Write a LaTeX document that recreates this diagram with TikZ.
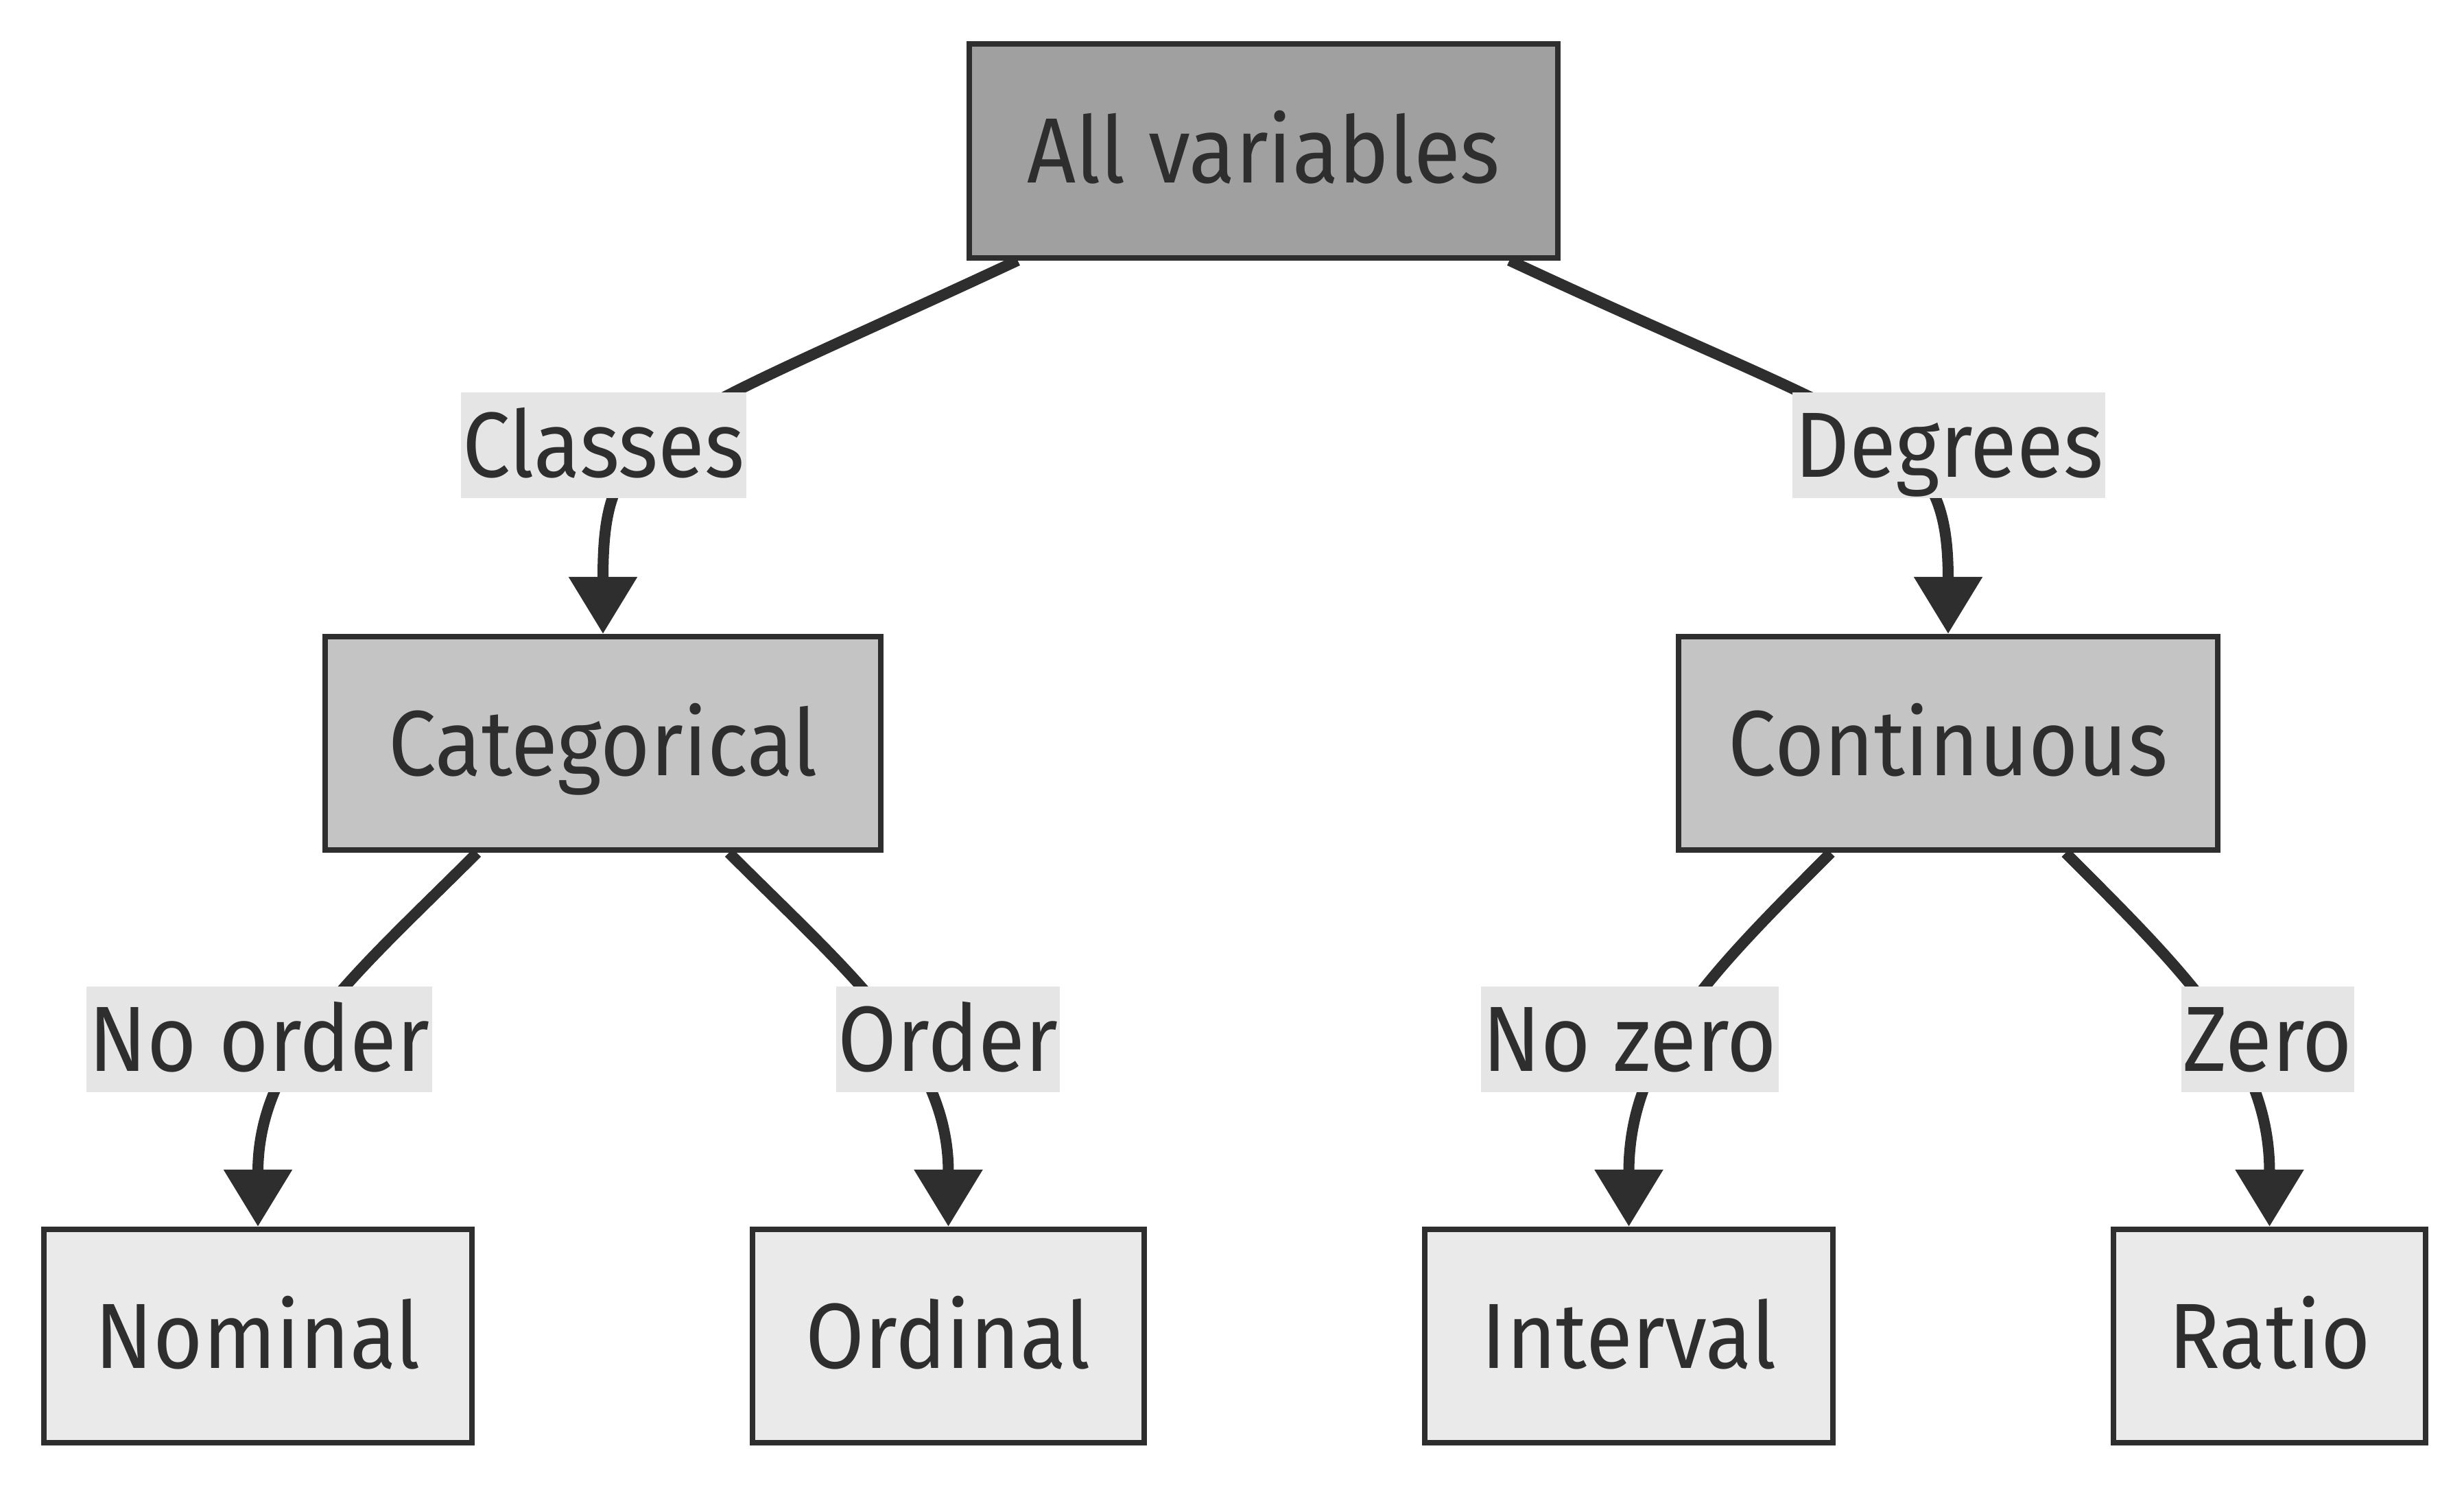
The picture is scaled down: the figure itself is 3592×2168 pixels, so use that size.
\documentclass[tikz,border=0pt]{standalone}
\usepackage{fontspec}
\setmainfont{Fira Sans}[FakeStretch=0.92]
\usetikzlibrary{arrows.meta,backgrounds}
\definecolor{ink}{HTML}{2E2E2E}
\definecolor{topfill}{HTML}{A0A0A0}
\definecolor{midfill}{HTML}{C4C4C4}
\definecolor{leaffill}{HTML}{EAEAEA}
\definecolor{lblfill}{HTML}{E5E5E5}

\begin{document}
\begin{tikzpicture}[x=0.01cm,y=-0.01cm,
  box/.style={draw=ink,line width=0.08cm,minimum height=3.11cm,inner sep=0pt,
    text=ink,font=\fontsize{38.4}{46}\selectfont,text height=0.93cm,text depth=0pt},
  lbl/.style={fill=lblfill,minimum height=1.53cm,inner xsep=0.03cm,inner ysep=0pt,
    text=ink,font=\fontsize{38.4}{46}\selectfont,text height=0.93cm,text depth=0pt},
  link/.style={-{Triangle[length=0.83cm,width=0.96cm]},draw=ink,line width=0.16cm}]
\useasboundingbox (0,0) rectangle (3592,2168);
% ---- top level ----
\node[box,fill=topfill,minimum width=8.58cm] (all) at (1842,220) {All variables};
% ---- second level ----
\node[box,fill=midfill,minimum width=8.10cm] (cat) at (879,1083.5) {Categorical};
\node[box,fill=midfill,minimum width=7.85cm] (cont) at (2840,1083.5) {Continuous};
% ---- leaves ----
\node[box,fill=leaffill,minimum width=6.24cm] (nom) at (376,1947.5) {Nominal};
\node[box,fill=leaffill,minimum width=5.71cm] (ord) at (1382.5,1947.5) {Ordinal};
\node[box,fill=leaffill,minimum width=5.95cm] (int) at (2374.5,1947.5) {Interval};
\node[box,fill=leaffill,minimum width=4.55cm] (ratio) at (3308.5,1947.5) {Ratio};
% ---- edge labels ----
\node[lbl] (classes) at (880,649) {Classes};
\node[lbl] (degrees) at (2841,649) {Degrees};
\node[lbl] (noorder) at (378,1515) {No order};
\node[lbl] (order) at (1382,1515) {Order};
\node[lbl] (nozero) at (2376,1515) {No zero};
\node[lbl] (zero) at (3306,1515) {Zero};
% ---- links, under the labels ----
\begin{scope}[on background layer]
  \draw[link] (all.204) .. controls +(-544,254) and +(0,-300) .. (cat.north);
  \draw[link] (all.336) .. controls +(544,254) and +(0,-300) .. (cont.north);
  \draw[link] (cat.221) .. controls +(-177,177) and +(0,-250) .. (nom.north);
  \draw[link] (cat.319) .. controls +(177,177) and +(0,-250) .. (ord.north);
  \draw[link] (cont.223) .. controls +(-177,177) and +(0,-250) .. (int.north);
  \draw[link] (cont.317) .. controls +(177,177) and +(0,-250) .. (ratio.north);
\end{scope}
\end{tikzpicture}
\end{document}
